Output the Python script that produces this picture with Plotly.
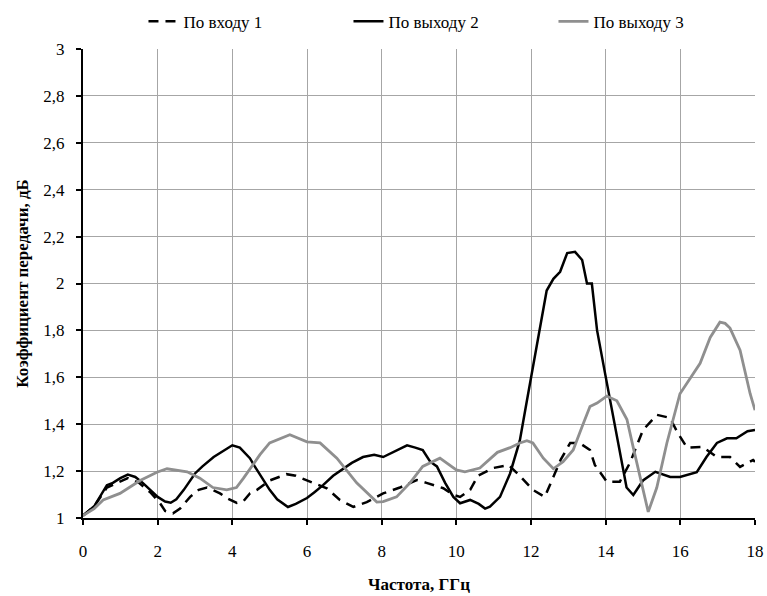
import plotly.graph_objects as go

# ---- data ----
x_in1 = [0, 0.3, 0.64, 0.9, 1.2, 1.5, 1.8, 2.06, 2.2, 2.41, 2.6, 2.87, 3.1, 3.32, 3.67, 3.85, 4.12, 4.29,
         4.47, 4.66, 5.0, 5.45, 5.7, 6.08, 6.53, 6.88, 7.24, 7.6, 8.04, 8.49, 8.94, 9.2, 9.38, 9.65, 9.9,
         10.1, 10.37, 10.58, 10.98, 11.4, 11.7, 12.05, 12.37, 12.6, 12.8, 13.05, 13.3, 13.58, 13.71, 14.03,
         14.38, 14.65, 15.0, 15.37, 15.72, 15.94, 16.18, 16.6, 16.98, 17.33, 17.6, 17.95, 18.0]
y_in1 = [1.01, 1.05, 1.13, 1.15, 1.17, 1.15, 1.11, 1.064, 1.03, 1.02, 1.04, 1.09, 1.12, 1.13, 1.105, 1.085,
         1.064, 1.07, 1.105, 1.12, 1.16, 1.187, 1.18, 1.155, 1.127, 1.077, 1.047, 1.068, 1.105, 1.13, 1.162,
         1.15, 1.14, 1.127, 1.10, 1.09, 1.12, 1.18, 1.213, 1.226, 1.18, 1.12, 1.09, 1.175, 1.25, 1.32, 1.32,
         1.29, 1.226, 1.155, 1.155, 1.235, 1.375, 1.44, 1.427, 1.36, 1.30, 1.303, 1.26, 1.26, 1.218, 1.247, 1.24]

x_out2 = [0, 0.3, 0.64, 0.8, 1.0, 1.2, 1.4, 1.6, 1.8, 2.0, 2.2, 2.35, 2.5, 2.7, 3.0, 3.2, 3.5, 3.7, 4.0,
          4.2, 4.47, 4.6, 4.8, 5.0, 5.2, 5.49, 5.7, 6.0, 6.2, 6.43, 6.7, 6.97, 7.2, 7.5, 7.8, 8.04, 8.3,
          8.68, 8.9, 9.1, 9.3, 9.48, 9.7, 9.92, 10.1, 10.37, 10.6, 10.77, 10.9, 11.17, 11.44, 11.7, 11.89,
          12.03, 12.24, 12.42, 12.6, 12.78, 12.97, 13.18, 13.37, 13.5, 13.63, 13.77, 13.98, 14.2, 14.38,
          14.56, 14.74, 15.0, 15.33, 15.73, 15.99, 16.44, 16.7, 16.98, 17.25, 17.5, 17.8, 18.0]
y_out2 = [1.01, 1.05, 1.14, 1.15, 1.17, 1.185, 1.175, 1.15, 1.12, 1.09, 1.07, 1.065, 1.08, 1.12, 1.19,
          1.22, 1.26, 1.28, 1.31, 1.30, 1.255, 1.22, 1.17, 1.12, 1.08, 1.047, 1.06, 1.085, 1.11, 1.14, 1.18,
          1.21, 1.235, 1.26, 1.27, 1.26, 1.28, 1.31, 1.30, 1.29, 1.24, 1.22, 1.15, 1.09, 1.063, 1.077, 1.06,
          1.04, 1.048, 1.09, 1.19, 1.33, 1.50, 1.62, 1.81, 1.97, 2.02, 2.05, 2.13, 2.135, 2.10, 2.0, 2.0,
          1.80, 1.62, 1.44, 1.29, 1.13, 1.098, 1.16, 1.197, 1.175, 1.175, 1.195, 1.26, 1.32, 1.34, 1.34,
          1.37, 1.375]

x_out3 = [0, 0.3, 0.54, 0.99, 1.53, 1.98, 2.25, 2.5, 2.79, 3.13, 3.48, 3.85, 4.11, 4.3, 4.47, 4.74, 5.0,
          5.54, 6.0, 6.35, 6.8, 7.33, 7.87, 8.04, 8.4, 8.76, 9.1, 9.56, 10.0, 10.23, 10.63, 11.1, 11.44,
          11.7, 11.89, 12.05, 12.33, 12.6, 12.86, 13.13, 13.37, 13.58, 13.77, 14.03, 14.3, 14.57, 14.74,
          14.92, 15.14, 15.37, 15.64, 15.99, 16.26, 16.53, 16.8, 17.06, 17.2, 17.33, 17.6, 17.87, 18.0]
y_out3 = [1.01, 1.04, 1.077, 1.105, 1.16, 1.195, 1.21, 1.205, 1.197, 1.17, 1.13, 1.12, 1.13, 1.17, 1.21,
          1.27, 1.32, 1.355, 1.325, 1.32, 1.255, 1.15, 1.068, 1.07, 1.09, 1.15, 1.22, 1.255, 1.205, 1.197,
          1.213, 1.28, 1.30, 1.32, 1.33, 1.32, 1.255, 1.21, 1.24, 1.29, 1.39, 1.475, 1.49, 1.52, 1.50, 1.42,
          1.30, 1.175, 1.026, 1.13, 1.32, 1.53, 1.597, 1.66, 1.77, 1.835, 1.83, 1.81, 1.716, 1.53, 1.46]

names = ["По входу 1", "По выходу 2", "По выходу 3"]
x_ticks = [0, 2, 4, 6, 8, 10, 12, 14, 16, 18]
y_ticks = [1, 1.2, 1.4, 1.6, 1.8, 2, 2.2, 2.4, 2.6, 2.8, 3]
y_tick_text = ["1", "1,2", "1,4", "1,6", "1,8", "2", "2,2", "2,4", "2,6", "2,8", "3"]

FONT = "Times New Roman"
TICKFONT = dict(family=FONT, size=17, color="black")
TITLEFONT = dict(family=FONT, size=17, color="black", weight="bold")

fig = go.Figure()
fig.add_trace(go.Scatter(x=x_in1, y=y_in1, mode="lines", name=names[0],
                         line=dict(color="black", width=2.5, dash="10px,7px")))
fig.add_trace(go.Scatter(x=x_out2, y=y_out2, mode="lines", name=names[1],
                         line=dict(color="black", width=2.5)))
fig.add_trace(go.Scatter(x=x_out3, y=y_out3, mode="lines", name=names[2],
                         line=dict(color="#8f8f8f", width=2.8)))

fig.update_layout(
    width=767, height=596,
    margin=dict(l=83, r=12, t=49, b=78, autoexpand=False),
    paper_bgcolor="white", plot_bgcolor="white",
    font=dict(family=FONT, size=17, color="black"),
    showlegend=True,
    legend=dict(orientation="h", x=0.09, xanchor="left", y=1.058, yanchor="middle",
                font=dict(family=FONT, size=17), entrywidth=160, itemwidth=30,
                bgcolor="rgba(0,0,0,0)"),
    xaxis=dict(range=[0, 18], tickvals=x_ticks, showgrid=True, gridcolor="#a6a6a6", gridwidth=1,
               showline=True, linecolor="black", linewidth=2, ticks="outside", ticklen=5,
               tickwidth=1.5, tickcolor="black", zeroline=False, ticklabelstandoff=12,
               automargin=False, tickfont=TICKFONT,
               title=dict(text="Частота, ГГц", font=TITLEFONT, standoff=18)),
    yaxis=dict(range=[1, 3], tickvals=y_ticks, ticktext=y_tick_text, showgrid=True,
               gridcolor="#a6a6a6", gridwidth=1, showline=True, linecolor="black", linewidth=2,
               ticks="outside", ticklen=5, tickwidth=1.5, tickcolor="black", zeroline=False,
               ticklabelstandoff=8, automargin=False, tickfont=TICKFONT,
               title=dict(text="Коэффициент передачи, дБ", font=TITLEFONT, standoff=10)),
)

fig.write_html("out.html")
